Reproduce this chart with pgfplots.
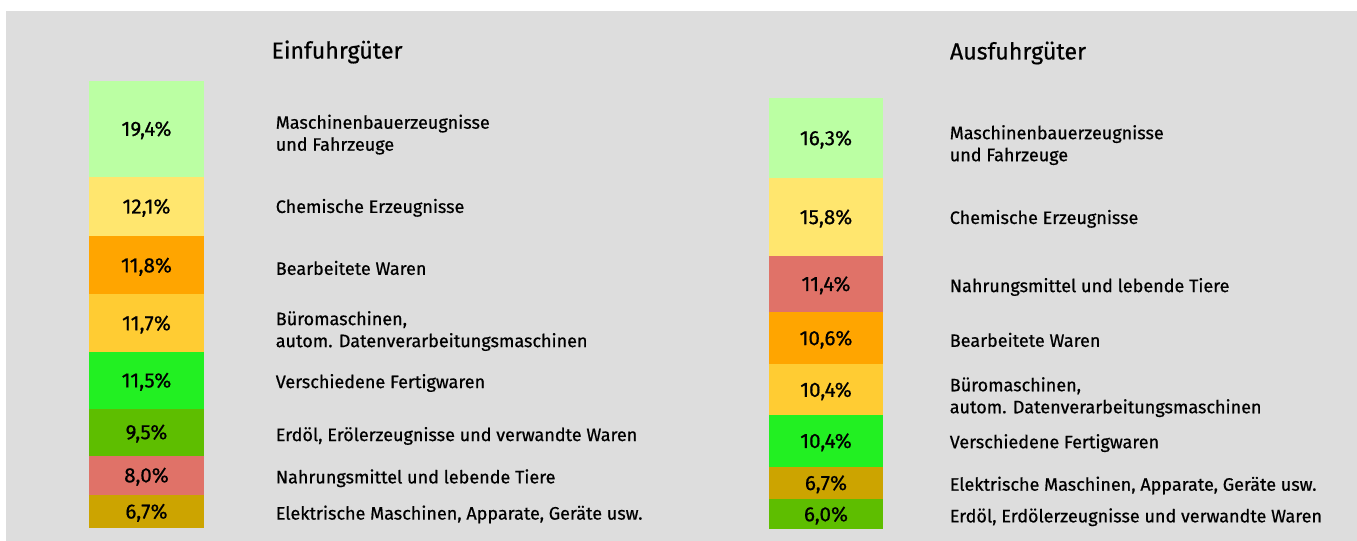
\documentclass[border=0pt]{standalone}
\usepackage{fontspec}
\setmainfont{Fira Sans}[FakeBold=0.6]
\usepackage{pgfplots}
\pgfplotsset{compat=1.18}

\definecolor{bg}{HTML}{DDDDDD}
\definecolor{cMasch}{HTML}{BBFFA3}
\definecolor{cChem}{HTML}{FFE66E}
\definecolor{cBearb}{HTML}{FFA500}
\definecolor{cBuero}{HTML}{FFCC33}
\definecolor{cVersch}{HTML}{22F022}
\definecolor{cErdoel}{HTML}{5EBE00}
\definecolor{cNahr}{HTML}{E07268}
\definecolor{cElek}{HTML}{CCA400}

\newcommand\lblfont{\fontsize{9}{11}\selectfont}
\newcommand\valfont{\fontsize{10.3}{11}\selectfont}
\newcommand\ttlfont{\fontsize{11.6}{14}\selectfont}
\newlength\lbldist

\pgfplotsset{
  segbar/.style={hide axis, scale only axis, clip=false, ybar stacked,
    xmin=-0.5, xmax=0.5, ymin=0, enlargelimits=false, anchor=south west,
    nodes near coords,
    every node near coord/.append style={font=\valfont, inner sep=0pt,
      anchor=center, text=black, yshift=-0.7pt}},
  % colour, value text, category text, extra shift of the category text
  seg/.style n args={4}{fill=#1, draw=none, nodes near coords={#2},
    every node near coord/.append style={label={[inner sep=0pt, align=left,
      font=\lblfont, text=black, label distance=\lbldist, yshift=#4]0:{#3}}}},
}

\begin{document}
\begin{tikzpicture}
\useasboundingbox (0,0) rectangle (678.5pt,-270.5pt);
\fill[bg] (3pt,-5.5pt) rectangle (678.5pt,-270.5pt);

\node[font=\ttlfont] at (168.5pt,-26pt) {Einfuhrgüter};
\node[font=\ttlfont] at (509pt,-26.5pt) {Ausfuhrgüter};

% Einfuhr
\setlength\lbldist{35.5pt}
\begin{axis}[segbar, at={(44.5pt,-264pt)}, width=57.5pt, height=223.5pt,
  ymax=90.7, bar width=57.5pt,
  every node near coord/.append style={minimum width=57.5pt}]
\addplot[seg={cElek}{6,7\%}{Elektrische Maschinen, Apparate, Geräte usw.}{-0.8pt}] coordinates {(0,6.7)};
\addplot[seg={cNahr}{8,0\%}{Nahrungsmittel und lebende Tiere}{-0.8pt}] coordinates {(0,8.0)};
\addplot[seg={cErdoel}{9,5\%}{Erdöl, Erölerzeugnisse und verwandte Waren}{-1.2pt}] coordinates {(0,9.5)};
\addplot[seg={cVersch}{11,5\%}{Verschiedene Fertigwaren}{-0.6pt}] coordinates {(0,11.5)};
\addplot[seg={cBuero}{11,7\%}{Büromaschinen,\\autom. Datenverarbeitungsmaschinen}{-3.2pt}] coordinates {(0,11.7)};
\addplot[seg={cBearb}{11,8\%}{Bearbeitete Waren}{-0.6pt}] coordinates {(0,11.8)};
\addplot[seg={cChem}{12,1\%}{Chemische Erzeugnisse}{0pt}] coordinates {(0,12.1)};
\addplot[seg={cMasch}{19,4\%}{Maschinenbauerzeugnisse\\und Fahrzeuge}{-2.2pt}] coordinates {(0,19.4)};
\end{axis}

% Ausfuhr
\setlength\lbldist{33pt}
\begin{axis}[segbar, at={(384.5pt,-264.5pt)}, width=57pt, height=215.5pt,
  ymax=87.6, bar width=57pt,
  every node near coord/.append style={minimum width=57pt}]
\addplot[seg={cErdoel}{6,0\%}{Erdöl, Erdölerzeugnisse und verwandte Waren}{-0.8pt}] coordinates {(0,6.0)};
\addplot[seg={cElek}{6,7\%}{Elektrische Maschinen, Apparate, Geräte usw.}{-0.6pt}] coordinates {(0,6.7)};
\addplot[seg={cVersch}{10,4\%}{Verschiedene Fertigwaren}{-0.4pt}] coordinates {(0,10.4)};
\addplot[seg={cBuero}{10,4\%}{Büromaschinen,\\autom. Datenverarbeitungsmaschinen}{-3pt}] coordinates {(0,10.4)};
\addplot[seg={cBearb}{10,6\%}{Bearbeitete Waren}{-0.2pt}] coordinates {(0,10.6)};
\addplot[seg={cNahr}{11,4\%}{Nahrungsmittel und lebende Tiere}{-0.8pt}] coordinates {(0,11.4)};
\addplot[seg={cChem}{15,8\%}{Chemische Erzeugnisse}{-0.2pt}] coordinates {(0,15.8)};
\addplot[seg={cMasch}{16,3\%}{Maschinenbauerzeugnisse\\und Fahrzeuge}{-2.8pt}] coordinates {(0,16.3)};
\end{axis}
\end{tikzpicture}
\end{document}
